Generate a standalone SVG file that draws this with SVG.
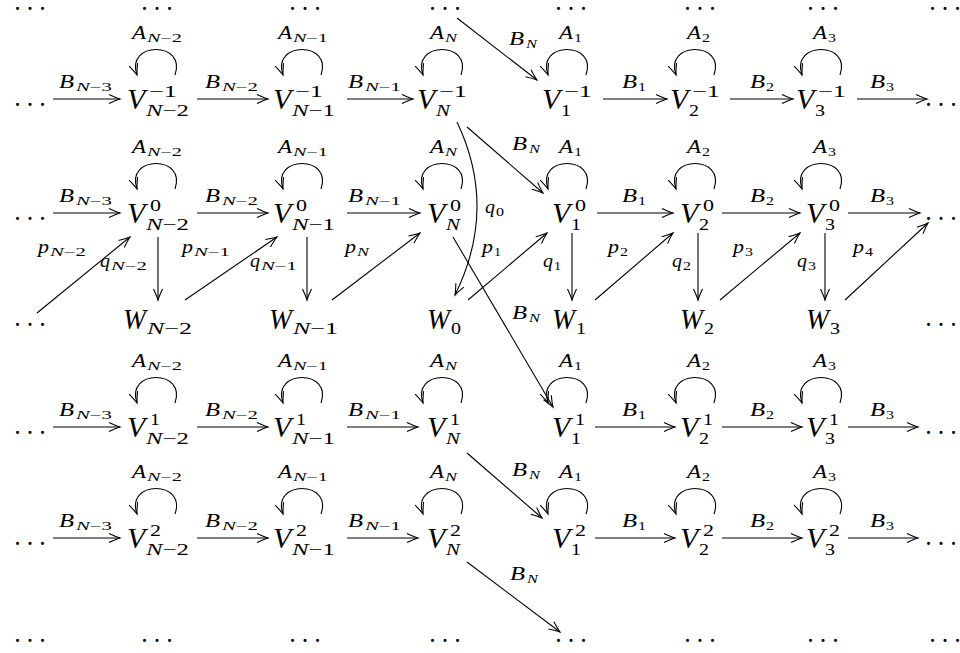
<svg xmlns="http://www.w3.org/2000/svg" width="960" height="653" viewBox="0 0 960 653">
<defs>
<style>
text{fill:#000;font-family:"Liberation Serif","Times New Roman",serif}
.M{font-size:30px;font-style:italic}
.S{font-size:17px}
.L{font-size:18px;font-style:italic}
.LS{font-size:12px}
.i{font-style:italic}
.D{font-size:10px;stroke:#000;stroke-width:1.8;stroke-linejoin:round}
.e{fill:none;stroke:#000;stroke-width:1.1;marker-end:url(#ah)}
</style>
<marker id="ah" viewBox="-13 -7 15 14" refX="0" refY="0" markerWidth="15" markerHeight="14" markerUnits="userSpaceOnUse" orient="auto">
<path d="M-11,-4.5 Q-4,-1.2 0,0 Q-4,1.2 -11,4.5" fill="none" stroke="#000" stroke-width="1.1"/>
</marker>
</defs>
<rect width="960" height="653" fill="#fff"/>

<g id="connectors">
<path class="e" d="M53,99 H120"/><path class="e" d="M197,99 H268"/><path class="e" d="M347,99 H413"/>
<path class="e" d="M603,99 H667"/><path class="e" d="M730,99 H793"/><path class="e" d="M857,99 H927"/>
<path class="e" d="M53,213 H120"/><path class="e" d="M197,213 H268"/><path class="e" d="M347,213 H420"/>
<path class="e" d="M597,213 H673"/><path class="e" d="M722,213 H800"/><path class="e" d="M848,213 H920"/>
<path class="e" d="M53,427 H120"/><path class="e" d="M197,427 H268"/><path class="e" d="M347,427 H418"/>
<path class="e" d="M595,427 H675"/><path class="e" d="M722,427 H802"/><path class="e" d="M848,427 H918"/>
<path class="e" d="M53,538 H120"/><path class="e" d="M197,538 H268"/><path class="e" d="M347,538 H418"/>
<path class="e" d="M595,538 H675"/><path class="e" d="M722,538 H802"/><path class="e" d="M848,538 H918"/>
<path class="e" d="M37,313 L130,237"/>
<path class="e" d="M158,237 L158,300"/>
<path class="e" d="M185,300 L277,237"/>
<path class="e" d="M307,237 L307,300"/>
<path class="e" d="M332,300 L420,233"/>
<path class="e" d="M457,122 Q498,208 455,295"/>
<path class="e" d="M453,237 L553,407"/>
<path class="e" d="M468,300 L547,233"/>
<path class="e" d="M572,233 L572,300"/>
<path class="e" d="M595,300 L673,233"/>
<path class="e" d="M698,233 L698,300"/>
<path class="e" d="M720,300 L800,233"/>
<path class="e" d="M825,233 L825,300"/>
<path class="e" d="M845,300 L928,223"/>
<path class="e" d="M457,18 L537,80"/>
<path class="e" d="M467,127 L543,193"/>
<path class="e" d="M467,453 L542,518"/>
<path class="e" d="M467,562 L560,632"/>
<path class="e" d="M175,75 C187,41 125,41 137,75"/><path class="e" d="M321,75 C333,41 271,41 283,75"/>
<path class="e" d="M461,75 C473,41 411,41 423,75"/><path class="e" d="M586,75 C598,41 536,41 548,75"/>
<path class="e" d="M714,75 C726,41 664,41 676,75"/><path class="e" d="M840,75 C852,41 790,41 802,75"/>
<path class="e" d="M175,189 C187,155 125,155 137,189"/><path class="e" d="M321,189 C333,155 271,155 283,189"/>
<path class="e" d="M461,189 C473,155 411,155 423,189"/><path class="e" d="M586,189 C598,155 536,155 548,189"/>
<path class="e" d="M714,189 C726,155 664,155 676,189"/><path class="e" d="M840,189 C852,155 790,155 802,189"/>
<path class="e" d="M175,403 C187,369 125,369 137,403"/><path class="e" d="M321,403 C333,369 271,369 283,403"/>
<path class="e" d="M461,403 C473,369 411,369 423,403"/><path class="e" d="M586,403 C598,369 536,369 548,403"/>
<path class="e" d="M714,403 C726,369 664,369 676,403"/><path class="e" d="M840,403 C852,369 790,369 802,403"/>
<path class="e" d="M175,514 C187,480 125,480 137,514"/><path class="e" d="M321,514 C333,480 271,480 283,514"/>
<path class="e" d="M461,514 C473,480 411,480 423,514"/><path class="e" d="M586,514 C598,480 536,480 548,514"/>
<path class="e" d="M714,514 C726,480 664,480 676,514"/><path class="e" d="M840,514 C852,480 790,480 802,514"/>
</g>

<g id="labels">
<g id="A-row-m1">
<text class="L" x="132" y="39" textLength="14" lengthAdjust="spacingAndGlyphs">A</text><text class="LS" x="147" y="42" textLength="35" lengthAdjust="spacingAndGlyphs"><tspan class="i">N</tspan>−2</text>
<text class="L" x="278" y="39" textLength="14" lengthAdjust="spacingAndGlyphs">A</text><text class="LS" x="293" y="42" textLength="35" lengthAdjust="spacingAndGlyphs"><tspan class="i">N</tspan>−1</text>
<text class="L" x="430" y="39" textLength="14" lengthAdjust="spacingAndGlyphs">A</text><text class="LS i" x="445" y="42" textLength="12" lengthAdjust="spacingAndGlyphs">N</text>
<text class="L" x="559" y="39" textLength="14" lengthAdjust="spacingAndGlyphs">A</text><text class="LS" x="574" y="42" textLength="8" lengthAdjust="spacingAndGlyphs">1</text>
<text class="L" x="687" y="39" textLength="14" lengthAdjust="spacingAndGlyphs">A</text><text class="LS" x="702" y="42" textLength="8" lengthAdjust="spacingAndGlyphs">2</text>
<text class="L" x="813" y="39" textLength="14" lengthAdjust="spacingAndGlyphs">A</text><text class="LS" x="828" y="42" textLength="8" lengthAdjust="spacingAndGlyphs">3</text>
</g>
<g id="A-row-0">
<text class="L" x="132" y="153" textLength="14" lengthAdjust="spacingAndGlyphs">A</text><text class="LS" x="147" y="156" textLength="35" lengthAdjust="spacingAndGlyphs"><tspan class="i">N</tspan>−2</text>
<text class="L" x="278" y="153" textLength="14" lengthAdjust="spacingAndGlyphs">A</text><text class="LS" x="293" y="156" textLength="35" lengthAdjust="spacingAndGlyphs"><tspan class="i">N</tspan>−1</text>
<text class="L" x="430" y="153" textLength="14" lengthAdjust="spacingAndGlyphs">A</text><text class="LS i" x="445" y="156" textLength="12" lengthAdjust="spacingAndGlyphs">N</text>
<text class="L" x="559" y="153" textLength="14" lengthAdjust="spacingAndGlyphs">A</text><text class="LS" x="574" y="156" textLength="8" lengthAdjust="spacingAndGlyphs">1</text>
<text class="L" x="687" y="153" textLength="14" lengthAdjust="spacingAndGlyphs">A</text><text class="LS" x="702" y="156" textLength="8" lengthAdjust="spacingAndGlyphs">2</text>
<text class="L" x="813" y="153" textLength="14" lengthAdjust="spacingAndGlyphs">A</text><text class="LS" x="828" y="156" textLength="8" lengthAdjust="spacingAndGlyphs">3</text>
</g>
<g id="A-row-1">
<text class="L" x="132" y="367" textLength="14" lengthAdjust="spacingAndGlyphs">A</text><text class="LS" x="147" y="370" textLength="35" lengthAdjust="spacingAndGlyphs"><tspan class="i">N</tspan>−2</text>
<text class="L" x="278" y="367" textLength="14" lengthAdjust="spacingAndGlyphs">A</text><text class="LS" x="293" y="370" textLength="35" lengthAdjust="spacingAndGlyphs"><tspan class="i">N</tspan>−1</text>
<text class="L" x="430" y="367" textLength="14" lengthAdjust="spacingAndGlyphs">A</text><text class="LS i" x="445" y="370" textLength="12" lengthAdjust="spacingAndGlyphs">N</text>
<text class="L" x="559" y="367" textLength="14" lengthAdjust="spacingAndGlyphs">A</text><text class="LS" x="574" y="370" textLength="8" lengthAdjust="spacingAndGlyphs">1</text>
<text class="L" x="687" y="367" textLength="14" lengthAdjust="spacingAndGlyphs">A</text><text class="LS" x="702" y="370" textLength="8" lengthAdjust="spacingAndGlyphs">2</text>
<text class="L" x="813" y="367" textLength="14" lengthAdjust="spacingAndGlyphs">A</text><text class="LS" x="828" y="370" textLength="8" lengthAdjust="spacingAndGlyphs">3</text>
</g>
<g id="A-row-2">
<text class="L" x="132" y="478" textLength="14" lengthAdjust="spacingAndGlyphs">A</text><text class="LS" x="147" y="481" textLength="35" lengthAdjust="spacingAndGlyphs"><tspan class="i">N</tspan>−2</text>
<text class="L" x="278" y="478" textLength="14" lengthAdjust="spacingAndGlyphs">A</text><text class="LS" x="293" y="481" textLength="35" lengthAdjust="spacingAndGlyphs"><tspan class="i">N</tspan>−1</text>
<text class="L" x="430" y="478" textLength="14" lengthAdjust="spacingAndGlyphs">A</text><text class="LS i" x="445" y="481" textLength="12" lengthAdjust="spacingAndGlyphs">N</text>
<text class="L" x="559" y="478" textLength="14" lengthAdjust="spacingAndGlyphs">A</text><text class="LS" x="574" y="481" textLength="8" lengthAdjust="spacingAndGlyphs">1</text>
<text class="L" x="687" y="478" textLength="14" lengthAdjust="spacingAndGlyphs">A</text><text class="LS" x="702" y="481" textLength="8" lengthAdjust="spacingAndGlyphs">2</text>
<text class="L" x="813" y="478" textLength="14" lengthAdjust="spacingAndGlyphs">A</text><text class="LS" x="828" y="481" textLength="8" lengthAdjust="spacingAndGlyphs">3</text>
</g>
<g id="B-row-m1">
<text class="L" x="59" y="88" textLength="15" lengthAdjust="spacingAndGlyphs">B</text><text class="LS" x="76" y="91" textLength="36" lengthAdjust="spacingAndGlyphs"><tspan class="i">N</tspan>−3</text>
<text class="L" x="205" y="88" textLength="15" lengthAdjust="spacingAndGlyphs">B</text><text class="LS" x="222" y="91" textLength="36" lengthAdjust="spacingAndGlyphs"><tspan class="i">N</tspan>−2</text>
<text class="L" x="348" y="88" textLength="15" lengthAdjust="spacingAndGlyphs">B</text><text class="LS" x="365" y="91" textLength="36" lengthAdjust="spacingAndGlyphs"><tspan class="i">N</tspan>−1</text>
<text class="L" x="622" y="88" textLength="15" lengthAdjust="spacingAndGlyphs">B</text><text class="LS" x="638" y="91" textLength="8" lengthAdjust="spacingAndGlyphs">1</text>
<text class="L" x="750" y="88" textLength="15" lengthAdjust="spacingAndGlyphs">B</text><text class="LS" x="766" y="91" textLength="8" lengthAdjust="spacingAndGlyphs">2</text>
<text class="L" x="870" y="88" textLength="15" lengthAdjust="spacingAndGlyphs">B</text><text class="LS" x="886" y="91" textLength="8" lengthAdjust="spacingAndGlyphs">3</text>
</g>
<g id="B-row-0">
<text class="L" x="59" y="202" textLength="15" lengthAdjust="spacingAndGlyphs">B</text><text class="LS" x="76" y="205" textLength="36" lengthAdjust="spacingAndGlyphs"><tspan class="i">N</tspan>−3</text>
<text class="L" x="205" y="202" textLength="15" lengthAdjust="spacingAndGlyphs">B</text><text class="LS" x="222" y="205" textLength="36" lengthAdjust="spacingAndGlyphs"><tspan class="i">N</tspan>−2</text>
<text class="L" x="348" y="202" textLength="15" lengthAdjust="spacingAndGlyphs">B</text><text class="LS" x="365" y="205" textLength="36" lengthAdjust="spacingAndGlyphs"><tspan class="i">N</tspan>−1</text>
<text class="L" x="622" y="202" textLength="15" lengthAdjust="spacingAndGlyphs">B</text><text class="LS" x="638" y="205" textLength="8" lengthAdjust="spacingAndGlyphs">1</text>
<text class="L" x="750" y="202" textLength="15" lengthAdjust="spacingAndGlyphs">B</text><text class="LS" x="766" y="205" textLength="8" lengthAdjust="spacingAndGlyphs">2</text>
<text class="L" x="870" y="202" textLength="15" lengthAdjust="spacingAndGlyphs">B</text><text class="LS" x="886" y="205" textLength="8" lengthAdjust="spacingAndGlyphs">3</text>
</g>
<g id="B-row-1">
<text class="L" x="59" y="416" textLength="15" lengthAdjust="spacingAndGlyphs">B</text><text class="LS" x="76" y="419" textLength="36" lengthAdjust="spacingAndGlyphs"><tspan class="i">N</tspan>−3</text>
<text class="L" x="205" y="416" textLength="15" lengthAdjust="spacingAndGlyphs">B</text><text class="LS" x="222" y="419" textLength="36" lengthAdjust="spacingAndGlyphs"><tspan class="i">N</tspan>−2</text>
<text class="L" x="348" y="416" textLength="15" lengthAdjust="spacingAndGlyphs">B</text><text class="LS" x="365" y="419" textLength="36" lengthAdjust="spacingAndGlyphs"><tspan class="i">N</tspan>−1</text>
<text class="L" x="622" y="416" textLength="15" lengthAdjust="spacingAndGlyphs">B</text><text class="LS" x="638" y="419" textLength="8" lengthAdjust="spacingAndGlyphs">1</text>
<text class="L" x="750" y="416" textLength="15" lengthAdjust="spacingAndGlyphs">B</text><text class="LS" x="766" y="419" textLength="8" lengthAdjust="spacingAndGlyphs">2</text>
<text class="L" x="870" y="416" textLength="15" lengthAdjust="spacingAndGlyphs">B</text><text class="LS" x="886" y="419" textLength="8" lengthAdjust="spacingAndGlyphs">3</text>
</g>
<g id="B-row-2">
<text class="L" x="59" y="527" textLength="15" lengthAdjust="spacingAndGlyphs">B</text><text class="LS" x="76" y="530" textLength="36" lengthAdjust="spacingAndGlyphs"><tspan class="i">N</tspan>−3</text>
<text class="L" x="205" y="527" textLength="15" lengthAdjust="spacingAndGlyphs">B</text><text class="LS" x="222" y="530" textLength="36" lengthAdjust="spacingAndGlyphs"><tspan class="i">N</tspan>−2</text>
<text class="L" x="348" y="527" textLength="15" lengthAdjust="spacingAndGlyphs">B</text><text class="LS" x="365" y="530" textLength="36" lengthAdjust="spacingAndGlyphs"><tspan class="i">N</tspan>−1</text>
<text class="L" x="622" y="527" textLength="15" lengthAdjust="spacingAndGlyphs">B</text><text class="LS" x="638" y="530" textLength="8" lengthAdjust="spacingAndGlyphs">1</text>
<text class="L" x="750" y="527" textLength="15" lengthAdjust="spacingAndGlyphs">B</text><text class="LS" x="766" y="530" textLength="8" lengthAdjust="spacingAndGlyphs">2</text>
<text class="L" x="870" y="527" textLength="15" lengthAdjust="spacingAndGlyphs">B</text><text class="LS" x="886" y="530" textLength="8" lengthAdjust="spacingAndGlyphs">3</text>
</g>
<g id="BN-labels">
<text class="L" x="509" y="45" textLength="15" lengthAdjust="spacingAndGlyphs">B</text><text class="LS i" x="526" y="48" textLength="11" lengthAdjust="spacingAndGlyphs">N</text>
<text class="L" x="512" y="150" textLength="15" lengthAdjust="spacingAndGlyphs">B</text><text class="LS i" x="529" y="153" textLength="11" lengthAdjust="spacingAndGlyphs">N</text>
<text class="L" x="512" y="319" textLength="15" lengthAdjust="spacingAndGlyphs">B</text><text class="LS i" x="529" y="322" textLength="11" lengthAdjust="spacingAndGlyphs">N</text>
<text class="L" x="512" y="476" textLength="15" lengthAdjust="spacingAndGlyphs">B</text><text class="LS i" x="529" y="479" textLength="11" lengthAdjust="spacingAndGlyphs">N</text>
<text class="L" x="510" y="580" textLength="15" lengthAdjust="spacingAndGlyphs">B</text><text class="LS i" x="527" y="583" textLength="11" lengthAdjust="spacingAndGlyphs">N</text>
</g>
<g id="pq-labels">
<text class="L" x="38" y="253" textLength="11" lengthAdjust="spacingAndGlyphs">p</text><text class="LS" x="50" y="256" textLength="36" lengthAdjust="spacingAndGlyphs"><tspan class="i">N</tspan>−2</text>
<text class="L" x="100" y="267" textLength="10" lengthAdjust="spacingAndGlyphs">q</text><text class="LS" x="111" y="270" textLength="36" lengthAdjust="spacingAndGlyphs"><tspan class="i">N</tspan>−2</text>
<text class="L" x="182" y="253" textLength="11" lengthAdjust="spacingAndGlyphs">p</text><text class="LS" x="194" y="256" textLength="36" lengthAdjust="spacingAndGlyphs"><tspan class="i">N</tspan>−1</text>
<text class="L" x="250" y="267" textLength="10" lengthAdjust="spacingAndGlyphs">q</text><text class="LS" x="261" y="270" textLength="36" lengthAdjust="spacingAndGlyphs"><tspan class="i">N</tspan>−1</text>
<text class="L" x="345" y="253" textLength="11" lengthAdjust="spacingAndGlyphs">p</text><text class="LS i" x="357" y="256" textLength="12" lengthAdjust="spacingAndGlyphs">N</text>
<text class="L" x="485" y="213" textLength="10" lengthAdjust="spacingAndGlyphs">q</text><text class="LS" x="496" y="216" textLength="8" lengthAdjust="spacingAndGlyphs">0</text>
<text class="L" x="482" y="253" textLength="11" lengthAdjust="spacingAndGlyphs">p</text><text class="LS" x="494" y="256" textLength="7" lengthAdjust="spacingAndGlyphs">1</text>
<text class="L" x="543" y="267" textLength="10" lengthAdjust="spacingAndGlyphs">q</text><text class="LS" x="554" y="270" textLength="7" lengthAdjust="spacingAndGlyphs">1</text>
<text class="L" x="608" y="253" textLength="11" lengthAdjust="spacingAndGlyphs">p</text><text class="LS" x="620" y="256" textLength="8" lengthAdjust="spacingAndGlyphs">2</text>
<text class="L" x="672" y="267" textLength="10" lengthAdjust="spacingAndGlyphs">q</text><text class="LS" x="683" y="270" textLength="8" lengthAdjust="spacingAndGlyphs">2</text>
<text class="L" x="733" y="253" textLength="11" lengthAdjust="spacingAndGlyphs">p</text><text class="LS" x="745" y="256" textLength="8" lengthAdjust="spacingAndGlyphs">3</text>
<text class="L" x="797" y="267" textLength="10" lengthAdjust="spacingAndGlyphs">q</text><text class="LS" x="808" y="270" textLength="8" lengthAdjust="spacingAndGlyphs">3</text>
<text class="L" x="853" y="253" textLength="11" lengthAdjust="spacingAndGlyphs">p</text><text class="LS" x="865" y="256" textLength="8" lengthAdjust="spacingAndGlyphs">4</text>
</g>
</g>

<g id="V-1_Nm2"><text class="M" x="127" y="109">V</text><text class="S" x="149" y="97" textLength="28" lengthAdjust="spacingAndGlyphs">−1</text><text class="S" x="146" y="116" textLength="43" lengthAdjust="spacingAndGlyphs"><tspan class="i">N</tspan>−2</text></g>
<g id="V-1_Nm1"><text class="M" x="273" y="109">V</text><text class="S" x="295" y="97" textLength="28" lengthAdjust="spacingAndGlyphs">−1</text><text class="S" x="292" y="116" textLength="43" lengthAdjust="spacingAndGlyphs"><tspan class="i">N</tspan>−1</text></g>
<g id="V-1_N"><text class="M" x="417" y="109">V</text><text class="S" x="439" y="97" textLength="28" lengthAdjust="spacingAndGlyphs">−1</text><text class="S i" x="436" y="116" textLength="14" lengthAdjust="spacingAndGlyphs">N</text></g>
<g id="V-1_1"><text class="M" x="542" y="109">V</text><text class="S" x="564" y="97" textLength="28" lengthAdjust="spacingAndGlyphs">−1</text><text class="S" x="561" y="116" textLength="10" lengthAdjust="spacingAndGlyphs">1</text></g>
<g id="V-1_2"><text class="M" x="670" y="109">V</text><text class="S" x="692" y="97" textLength="28" lengthAdjust="spacingAndGlyphs">−1</text><text class="S" x="689" y="116" textLength="10" lengthAdjust="spacingAndGlyphs">2</text></g>
<g id="V-1_3"><text class="M" x="796" y="109">V</text><text class="S" x="818" y="97" textLength="28" lengthAdjust="spacingAndGlyphs">−1</text><text class="S" x="815" y="116" textLength="10" lengthAdjust="spacingAndGlyphs">3</text></g>

<g id="V0_Nm2"><text class="M" x="127" y="223">V</text><text class="S" x="150" y="211" textLength="11" lengthAdjust="spacingAndGlyphs">0</text><text class="S" x="146" y="230" textLength="43" lengthAdjust="spacingAndGlyphs"><tspan class="i">N</tspan>−2</text></g>
<g id="V0_Nm1"><text class="M" x="273" y="223">V</text><text class="S" x="296" y="211" textLength="11" lengthAdjust="spacingAndGlyphs">0</text><text class="S" x="292" y="230" textLength="43" lengthAdjust="spacingAndGlyphs"><tspan class="i">N</tspan>−1</text></g>
<g id="V0_N"><text class="M" x="427" y="223">V</text><text class="S" x="450" y="211" textLength="11" lengthAdjust="spacingAndGlyphs">0</text><text class="S i" x="446" y="230" textLength="14" lengthAdjust="spacingAndGlyphs">N</text></g>
<g id="V0_1"><text class="M" x="552" y="223">V</text><text class="S" x="575" y="211" textLength="11" lengthAdjust="spacingAndGlyphs">0</text><text class="S" x="571" y="230" textLength="10" lengthAdjust="spacingAndGlyphs">1</text></g>
<g id="V0_2"><text class="M" x="680" y="223">V</text><text class="S" x="703" y="211" textLength="11" lengthAdjust="spacingAndGlyphs">0</text><text class="S" x="699" y="230" textLength="10" lengthAdjust="spacingAndGlyphs">2</text></g>
<g id="V0_3"><text class="M" x="806" y="223">V</text><text class="S" x="829" y="211" textLength="11" lengthAdjust="spacingAndGlyphs">0</text><text class="S" x="825" y="230" textLength="10" lengthAdjust="spacingAndGlyphs">3</text></g>

<g id="W_Nm2"><text class="M" x="123" y="329" textLength="23" lengthAdjust="spacingAndGlyphs">W</text><text class="S" x="147" y="334" textLength="45" lengthAdjust="spacingAndGlyphs"><tspan class="i">N</tspan>−2</text></g>
<g id="W_Nm1"><text class="M" x="269" y="329" textLength="23" lengthAdjust="spacingAndGlyphs">W</text><text class="S" x="293" y="334" textLength="45" lengthAdjust="spacingAndGlyphs"><tspan class="i">N</tspan>−1</text></g>
<g id="W_0"><text class="M" x="427" y="329" textLength="23" lengthAdjust="spacingAndGlyphs">W</text><text class="S" x="451" y="334" textLength="10" lengthAdjust="spacingAndGlyphs">0</text></g>
<g id="W_1"><text class="M" x="552" y="329" textLength="23" lengthAdjust="spacingAndGlyphs">W</text><text class="S" x="576" y="334" textLength="10" lengthAdjust="spacingAndGlyphs">1</text></g>
<g id="W_2"><text class="M" x="680" y="329" textLength="23" lengthAdjust="spacingAndGlyphs">W</text><text class="S" x="704" y="334" textLength="10" lengthAdjust="spacingAndGlyphs">2</text></g>
<g id="W_3"><text class="M" x="806" y="329" textLength="23" lengthAdjust="spacingAndGlyphs">W</text><text class="S" x="830" y="334" textLength="10" lengthAdjust="spacingAndGlyphs">3</text></g>

<g id="V1_Nm2"><text class="M" x="127" y="437">V</text><text class="S" x="150" y="425" textLength="10" lengthAdjust="spacingAndGlyphs">1</text><text class="S" x="146" y="444" textLength="43" lengthAdjust="spacingAndGlyphs"><tspan class="i">N</tspan>−2</text></g>
<g id="V1_Nm1"><text class="M" x="273" y="437">V</text><text class="S" x="296" y="425" textLength="10" lengthAdjust="spacingAndGlyphs">1</text><text class="S" x="292" y="444" textLength="43" lengthAdjust="spacingAndGlyphs"><tspan class="i">N</tspan>−1</text></g>
<g id="V1_N"><text class="M" x="427" y="437">V</text><text class="S" x="450" y="425" textLength="10" lengthAdjust="spacingAndGlyphs">1</text><text class="S i" x="446" y="444" textLength="14" lengthAdjust="spacingAndGlyphs">N</text></g>
<g id="V1_1"><text class="M" x="552" y="437">V</text><text class="S" x="575" y="425" textLength="10" lengthAdjust="spacingAndGlyphs">1</text><text class="S" x="571" y="444" textLength="10" lengthAdjust="spacingAndGlyphs">1</text></g>
<g id="V1_2"><text class="M" x="680" y="437">V</text><text class="S" x="703" y="425" textLength="10" lengthAdjust="spacingAndGlyphs">1</text><text class="S" x="699" y="444" textLength="10" lengthAdjust="spacingAndGlyphs">2</text></g>
<g id="V1_3"><text class="M" x="806" y="437">V</text><text class="S" x="829" y="425" textLength="10" lengthAdjust="spacingAndGlyphs">1</text><text class="S" x="825" y="444" textLength="10" lengthAdjust="spacingAndGlyphs">3</text></g>

<g id="V2_Nm2"><text class="M" x="127" y="548">V</text><text class="S" x="150" y="536" textLength="11" lengthAdjust="spacingAndGlyphs">2</text><text class="S" x="146" y="555" textLength="43" lengthAdjust="spacingAndGlyphs"><tspan class="i">N</tspan>−2</text></g>
<g id="V2_Nm1"><text class="M" x="273" y="548">V</text><text class="S" x="296" y="536" textLength="11" lengthAdjust="spacingAndGlyphs">2</text><text class="S" x="292" y="555" textLength="43" lengthAdjust="spacingAndGlyphs"><tspan class="i">N</tspan>−1</text></g>
<g id="V2_N"><text class="M" x="427" y="548">V</text><text class="S" x="450" y="536" textLength="11" lengthAdjust="spacingAndGlyphs">2</text><text class="S i" x="446" y="555" textLength="14" lengthAdjust="spacingAndGlyphs">N</text></g>
<g id="V2_1"><text class="M" x="552" y="548">V</text><text class="S" x="575" y="536" textLength="11" lengthAdjust="spacingAndGlyphs">2</text><text class="S" x="571" y="555" textLength="10" lengthAdjust="spacingAndGlyphs">1</text></g>
<g id="V2_2"><text class="M" x="680" y="548">V</text><text class="S" x="703" y="536" textLength="11" lengthAdjust="spacingAndGlyphs">2</text><text class="S" x="699" y="555" textLength="10" lengthAdjust="spacingAndGlyphs">2</text></g>
<g id="V2_3"><text class="M" x="806" y="548">V</text><text class="S" x="829" y="536" textLength="11" lengthAdjust="spacingAndGlyphs">2</text><text class="S" x="825" y="555" textLength="10" lengthAdjust="spacingAndGlyphs">3</text></g>

<g id="dots-top">
<text class="D" x="16.25 28.75 41.25" y="9">...</text><text class="D" x="143.25 155.75 168.25" y="9">...</text>
<text class="D" x="291.25 303.75 316.25" y="9">...</text><text class="D" x="431.25 443.75 456.25" y="9">...</text>
<text class="D" x="557.25 569.75 582.25" y="9">...</text><text class="D" x="686.25 698.75 711.25" y="9">...</text>
<text class="D" x="809.25 821.75 834.25" y="9">...</text><text class="D" x="931.25 943.75 956.25" y="9">...</text>
</g>
<g id="dots-left">
<text class="D" x="16.25 28.75 41.25" y="104.5">...</text><text class="D" x="16.25 28.75 41.25" y="218.5">...</text>
<text class="D" x="16.25 28.75 41.25" y="324.5">...</text><text class="D" x="16.25 28.75 41.25" y="432.5">...</text>
<text class="D" x="16.25 28.75 41.25" y="543.5">...</text>
</g>
<g id="dots-right">
<text class="D" x="927.25 939.75 952.25" y="104.5">...</text><text class="D" x="927.25 939.75 952.25" y="218.5">...</text>
<text class="D" x="927.25 939.75 952.25" y="324.5">...</text><text class="D" x="927.25 939.75 952.25" y="432.5">...</text>
<text class="D" x="927.25 939.75 952.25" y="543.5">...</text>
</g>
<g id="dots-bottom">
<text class="D" x="16.25 28.75 41.25" y="640.5">...</text><text class="D" x="143.25 155.75 168.25" y="640.5">...</text>
<text class="D" x="291.25 303.75 316.25" y="640.5">...</text><text class="D" x="431.25 443.75 456.25" y="640.5">...</text>
<text class="D" x="557.25 569.75 582.25" y="640.5">...</text><text class="D" x="686.25 698.75 711.25" y="640.5">...</text>
<text class="D" x="809.25 821.75 834.25" y="640.5">...</text><text class="D" x="931.25 943.75 956.25" y="640.5">...</text>
</g>
</svg>
